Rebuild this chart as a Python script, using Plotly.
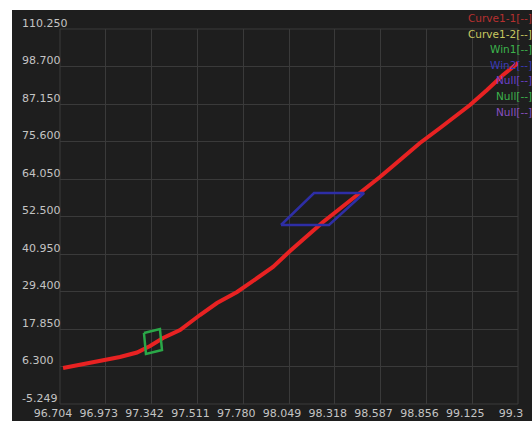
import plotly.graph_objects as go

# ---- data ----
curve_x = [96.722, 96.821, 96.939, 97.056, 97.156, 97.233, 97.309, 97.409, 97.526, 97.626,
           97.744, 97.861, 97.955, 98.055, 98.096, 98.249, 98.390, 98.507, 98.583, 98.701,
           98.818, 98.936, 99.036, 99.112, 99.212, 99.306, 99.394]
curve_y = [5.84, 6.76, 7.99, 9.23, 10.60, 12.61, 15.08, 17.54, 22.16, 25.86,
           29.25, 33.56, 36.95, 41.87, 43.72, 50.81, 56.66, 61.28, 64.67, 69.90,
           75.14, 79.76, 83.76, 86.84, 91.46, 96.08, 99.80]

win1_x = [97.197, 97.291, 97.303, 97.209, 97.197]
win1_y = [16.62, 17.85, 11.38, 10.15, 16.62]

win2_x = [98.002, 98.196, 98.490, 98.284, 98.002]
win2_y = [49.88, 59.74, 59.74, 49.88, 49.88]

x_ticks = [96.704, 96.973, 97.242, 97.511, 97.780, 98.049, 98.318, 98.587, 98.856, 99.125, 99.394]
x_labels = ["96.704", "96.973", "97.342", "97.511", "97.780", "98.049", "98.318", "98.587",
            "98.856", "99.125", "99.3"]
y_ticks = [110.25, 98.7, 87.15, 75.6, 64.05, 52.5, 40.95, 29.4, 17.85, 6.3, -5.249]
y_labels = ["110.250", "98.700", "87.150", "75.600", "64.050", "52.500", "40.950",
            "29.400", "17.850", "6.300", "-5.249"]

legend_labels = ["Curve1-1[--]", "Curve1-2[--]", "Win1[--]", "Win2[--]", "Null[--]", "Null[--]", "Null[--]"]
legend_colors = ["#b83030", "#c8c860", "#3cb44c", "#3a3ab8", "#6a40c8", "#3cb44c", "#8a50c0"]

# ---- figure ----
W, H = 532, 421
ML, MR, MT, MB = 60, 14, 29, 17
PW = W - ML - MR
PH = H - MT - MB
BG = "#1e1e1e"
GRID = "#3a3a3a"
TXT = "#c4c4c4"

fig = go.Figure()
fig.add_trace(go.Scatter(x=curve_x, y=curve_y, mode="lines",
                         line=dict(color="#e82222", width=4), showlegend=False))
fig.add_trace(go.Scatter(x=win1_x, y=win1_y, mode="lines",
                         line=dict(color="#2aa848", width=2.5), showlegend=False))
fig.add_trace(go.Scatter(x=win2_x, y=win2_y, mode="lines",
                         line=dict(color="#2e2ea6", width=2.5), showlegend=False))

def px_(p):  # page pixel x -> paper x
    return (p - ML) / PW

def py_(p):  # page pixel y -> paper y
    return (H - MB - p) / PH

shapes = [
    dict(type="rect", xref="paper", yref="paper", x0=px_(0), x1=px_(12), y0=py_(H), y1=py_(0),
         fillcolor="white", line=dict(width=0), layer="above"),
    dict(type="rect", xref="paper", yref="paper", x0=px_(0), x1=px_(W), y0=py_(10), y1=py_(0),
         fillcolor="white", line=dict(width=0), layer="above"),
    dict(type="rect", xref="paper", yref="paper", x0=0, x1=1, y0=0, y1=1,
         fillcolor="rgba(0,0,0,0)", line=dict(color=GRID, width=1), layer="below"),
]

annotations = []
for v, t in zip(y_ticks, y_labels):
    annotations.append(dict(xref="paper", yref="y", x=px_(20), y=v, xanchor="left",
                            yanchor="middle", yshift=6, text=t, showarrow=False,
                            font=dict(family="DejaVu Sans", size=11, color=TXT)))
for i, (t, c) in enumerate(zip(legend_labels, legend_colors)):
    annotations.append(dict(xref="paper", yref="paper", x=px_(534), y=py_(18 + i * 15.6),
                            xanchor="right", yanchor="middle", text=t, showarrow=False,
                            font=dict(family="DejaVu Sans", size=10.5, color=c)))

fig.update_layout(
    width=W, height=H,
    margin=dict(l=ML, r=MR, t=MT, b=MB, pad=0, autoexpand=False),
    paper_bgcolor=BG, plot_bgcolor=BG,
    showlegend=False, hovermode=False,
    shapes=shapes, annotations=annotations,
    font=dict(family="DejaVu Sans", size=11, color=TXT),
    xaxis=dict(range=[96.704, 99.394], tickmode="array", automargin=False,
               tickvals=x_ticks, ticktext=x_labels, showgrid=True, gridcolor=GRID, gridwidth=1,
               zeroline=False, showline=False, ticks="", ticklabelshift=-7, ticklabelstandoff=1,
               tickfont=dict(family="DejaVu Sans", size=11, color=TXT)),
    yaxis=dict(range=[-5.249, 110.25], tickmode="array", tickvals=y_ticks, automargin=False,
               showticklabels=False, showgrid=True, gridcolor=GRID, gridwidth=1,
               zeroline=False, showline=False, ticks=""),
)

fig.write_html("out.html", config={"displayModeBar": False},
               post_script="document.body.style.margin='0';document.body.style.overflow='hidden';")
